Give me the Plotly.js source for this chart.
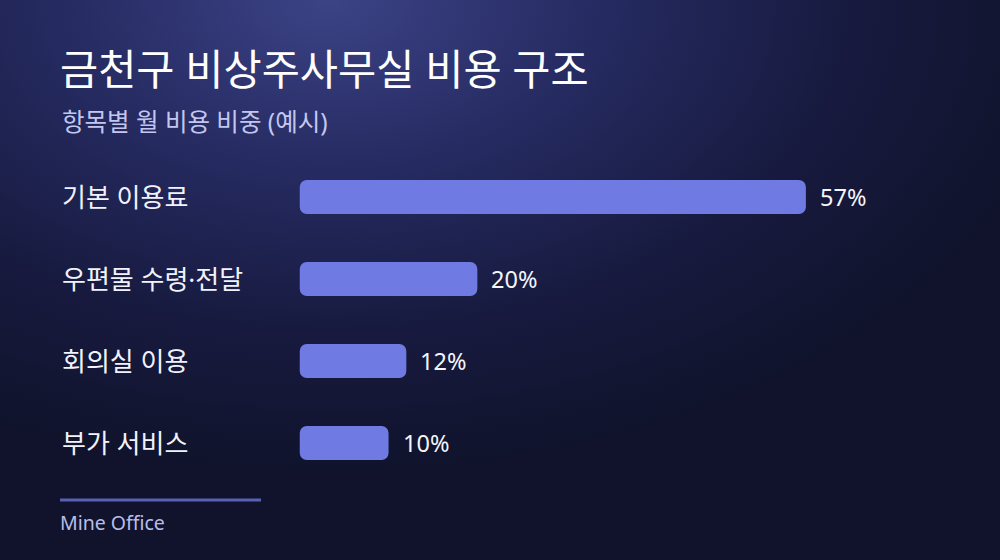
<!DOCTYPE html>
<html>
<head>
<meta charset="utf-8">
<script src="https://cdn.plot.ly/plotly-3.0.1.min.js"></script>
<style>
  html, body { margin: 0; padding: 0; }
  #chart {
    width: 1000px; height: 560px;
    background: radial-gradient(ellipse 75% 85% at 33% 0%, #3c4386 0%, #262b62 35%, #171a3e 70%, #10132b 100%);
  }
</style>
</head>
<body>
<div id="chart"></div>
<script>
// 항목별 월 비용 비중 (%)
const categories = ["기본 이용료", "우편물 수령·전달", "회의실 이용", "부가 서비스"];
const shares = [57, 20, 12, 10];
const valueLabels = shares.map(v => v + "%");

const titleText = "금천구 비상주사무실 비용 구조";
const subtitleText = "항목별 월 비용 비중 (예시)";
const footerText = "Mine Office";

const FONT = "Noto Sans, Noto Sans CJK KR, sans-serif";
const BAR = "#6f7be2";
const LEFT = -0.3592;   // paper x of the left text column (x = 60px)

// category labels on the left + value labels after each bar
let annotations = [];
categories.forEach((c, i) => {
  annotations.push({
    x: LEFT, xref: "paper", y: c, yref: "y",
    xanchor: "left", yanchor: "middle",
    text: c, showarrow: false,
    font: { family: FONT, size: 26, color: "#f1f2fb" }
  });
  annotations.push({
    x: shares[i], xref: "x", y: c, yref: "y",
    xanchor: "left", yanchor: "middle", xshift: 12,
    text: valueLabels[i], showarrow: false,
    font: { family: FONT, size: 23.5, color: "#f4f5fc" }
  });
});
annotations.push({
  x: LEFT, xref: "paper", y: 1.104, yref: "paper",
  xanchor: "left", yanchor: "middle",
  text: subtitleText, showarrow: false,
  font: { family: FONT, size: 24.5, color: "#c3c7ef" }
});
annotations.push({
  x: LEFT, xref: "paper", y: -0.116, yref: "paper", xshift: -2,
  xanchor: "left", yanchor: "middle",
  text: footerText, showarrow: false,
  font: { family: FONT, size: 19.5, color: "#b9bee9" }
});

// base given explicitly -> both ends of the bar get rounded corners
const trace = {
  type: "bar", orientation: "h",
  y: categories,
  x: shares,
  base: shares.map(() => 0),
  width: 0.415,
  marker: { color: BAR, line: { width: 0 } },
  hoverinfo: "skip"
};

const layout = {
  width: 1000, height: 560,
  paper_bgcolor: "rgba(0,0,0,0)",
  plot_bgcolor: "rgba(0,0,0,0)",
  margin: { l: 282, r: 100, t: 156, b: 76 },
  showlegend: false,
  barmode: "overlay",
  barcornerradius: 7,
  title: {
    text: titleText,
    xref: "container", yref: "container",
    x: 0.06, xanchor: "left",
    y: 1 - 70 / 560, yanchor: "middle",
    font: { family: FONT, size: 41.5, color: "#ffffff" }
  },
  xaxis: {
    range: [-2, 67.6], visible: false, fixedrange: true
  },
  yaxis: {
    type: "category", autorange: "reversed",
    range: [3.5, -0.5],
    showticklabels: false, showgrid: false, zeroline: false, fixedrange: true
  },
  shapes: [{
    type: "line", xref: "paper", yref: "paper",
    x0: LEFT, x1: -0.034, y0: -0.049, y1: -0.049,
    line: { color: "#5a60b4", width: 3 }
  }],
  annotations: annotations
};

Plotly.newPlot("chart", [trace], layout, { displayModeBar: false, staticPlot: true });
</script>
</body>
</html>
